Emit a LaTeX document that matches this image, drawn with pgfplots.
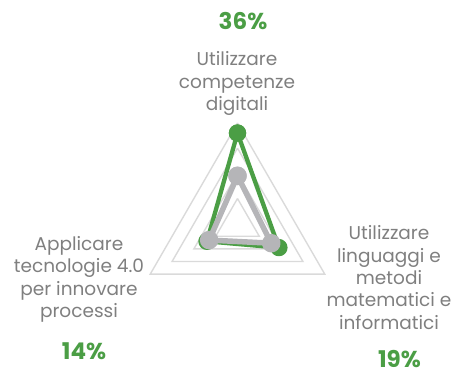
\documentclass[border=0pt]{standalone}
\usepackage{fontspec}
\setmainfont{Poppins}
\usepackage{pgfplots}
\pgfplotsset{compat=1.18}
\usepgfplotslibrary{polar}
\definecolor{radgreen}{HTML}{4B9E45}
\definecolor{radgrey}{HTML}{B5B5B8}
\definecolor{gridgrey}{HTML}{DADADA}
\definecolor{labgrey}{HTML}{7F7F7F}

\begin{document}
\begin{tikzpicture}
    % picture frame: pole at (0,0), 455 x 376 overall
    \useasboundingbox (-237.5pt,-152.3pt) rectangle (217.5pt,223.7pt);
    \begin{polaraxis}[
        at={(0,0)}, anchor=center,
        scale only axis,
        width=201.4pt, height=201.4pt,
        xmin=0, xmax=360, ymin=0, ymax=40,
        hide axis,
        clip=false,
        ]
        % grid rings (10, 20, 30, 40 %)
        \addplot[gridgrey, line width=1.4pt, mark=none] coordinates {(90,40) (330,40) (210,40) (90,40)};
        \addplot[gridgrey, line width=1.4pt, mark=none] coordinates {(90,30) (330,30) (210,30) (90,30)};
        \addplot[gridgrey, line width=1.4pt, mark=none] coordinates {(90,20) (330,20) (210,20) (90,20)};
        \addplot[gridgrey, line width=1.4pt, mark=none] coordinates {(90,10) (330,10) (210,10) (90,10)};

        % green series
        \addplot[radgreen, line width=4.3pt, line join=round,
            mark=*, mark size=6.5pt, mark options={fill=radgreen, draw=none}]
            coordinates {(90,36) (330,19) (210,14) (90,36)};
        % grey series
        \addplot[radgrey, line width=5.5pt, line join=round,
            mark=*, mark size=6.5pt, mark options={fill=radgrey, draw=none}]
            coordinates {(90,19) (330,15.5) (210,13) (90,19)};
    \end{polaraxis}

    \begin{scope}[every node/.style={align=center, inner sep=0pt, text=labgrey,
            font=\fontsize{18.5}{22.3}\selectfont}]
        \node at (-0.5pt,140pt) {Utilizzare\\competenze\\digitali};
        \node at (-158.5pt,-55.8pt) {Applicare\\tecnologie 4.0\\per innovare\\processi};
        \node at (151.5pt,-53.8pt) {Utilizzare\\linguaggi e\\metodi\\matematici e\\informatici};
    \end{scope}
    \begin{scope}[every node/.style={inner sep=0pt, text=radgreen,
            font=\fontsize{23}{26}\selectfont\bfseries}]
        \node at (5.5pt,202.7pt) {36\%};
        \node at (-153.5pt,-127.3pt) {14\%};
        \node at (162pt,-135pt) {19\%};
    \end{scope}
\end{tikzpicture}
\end{document}
